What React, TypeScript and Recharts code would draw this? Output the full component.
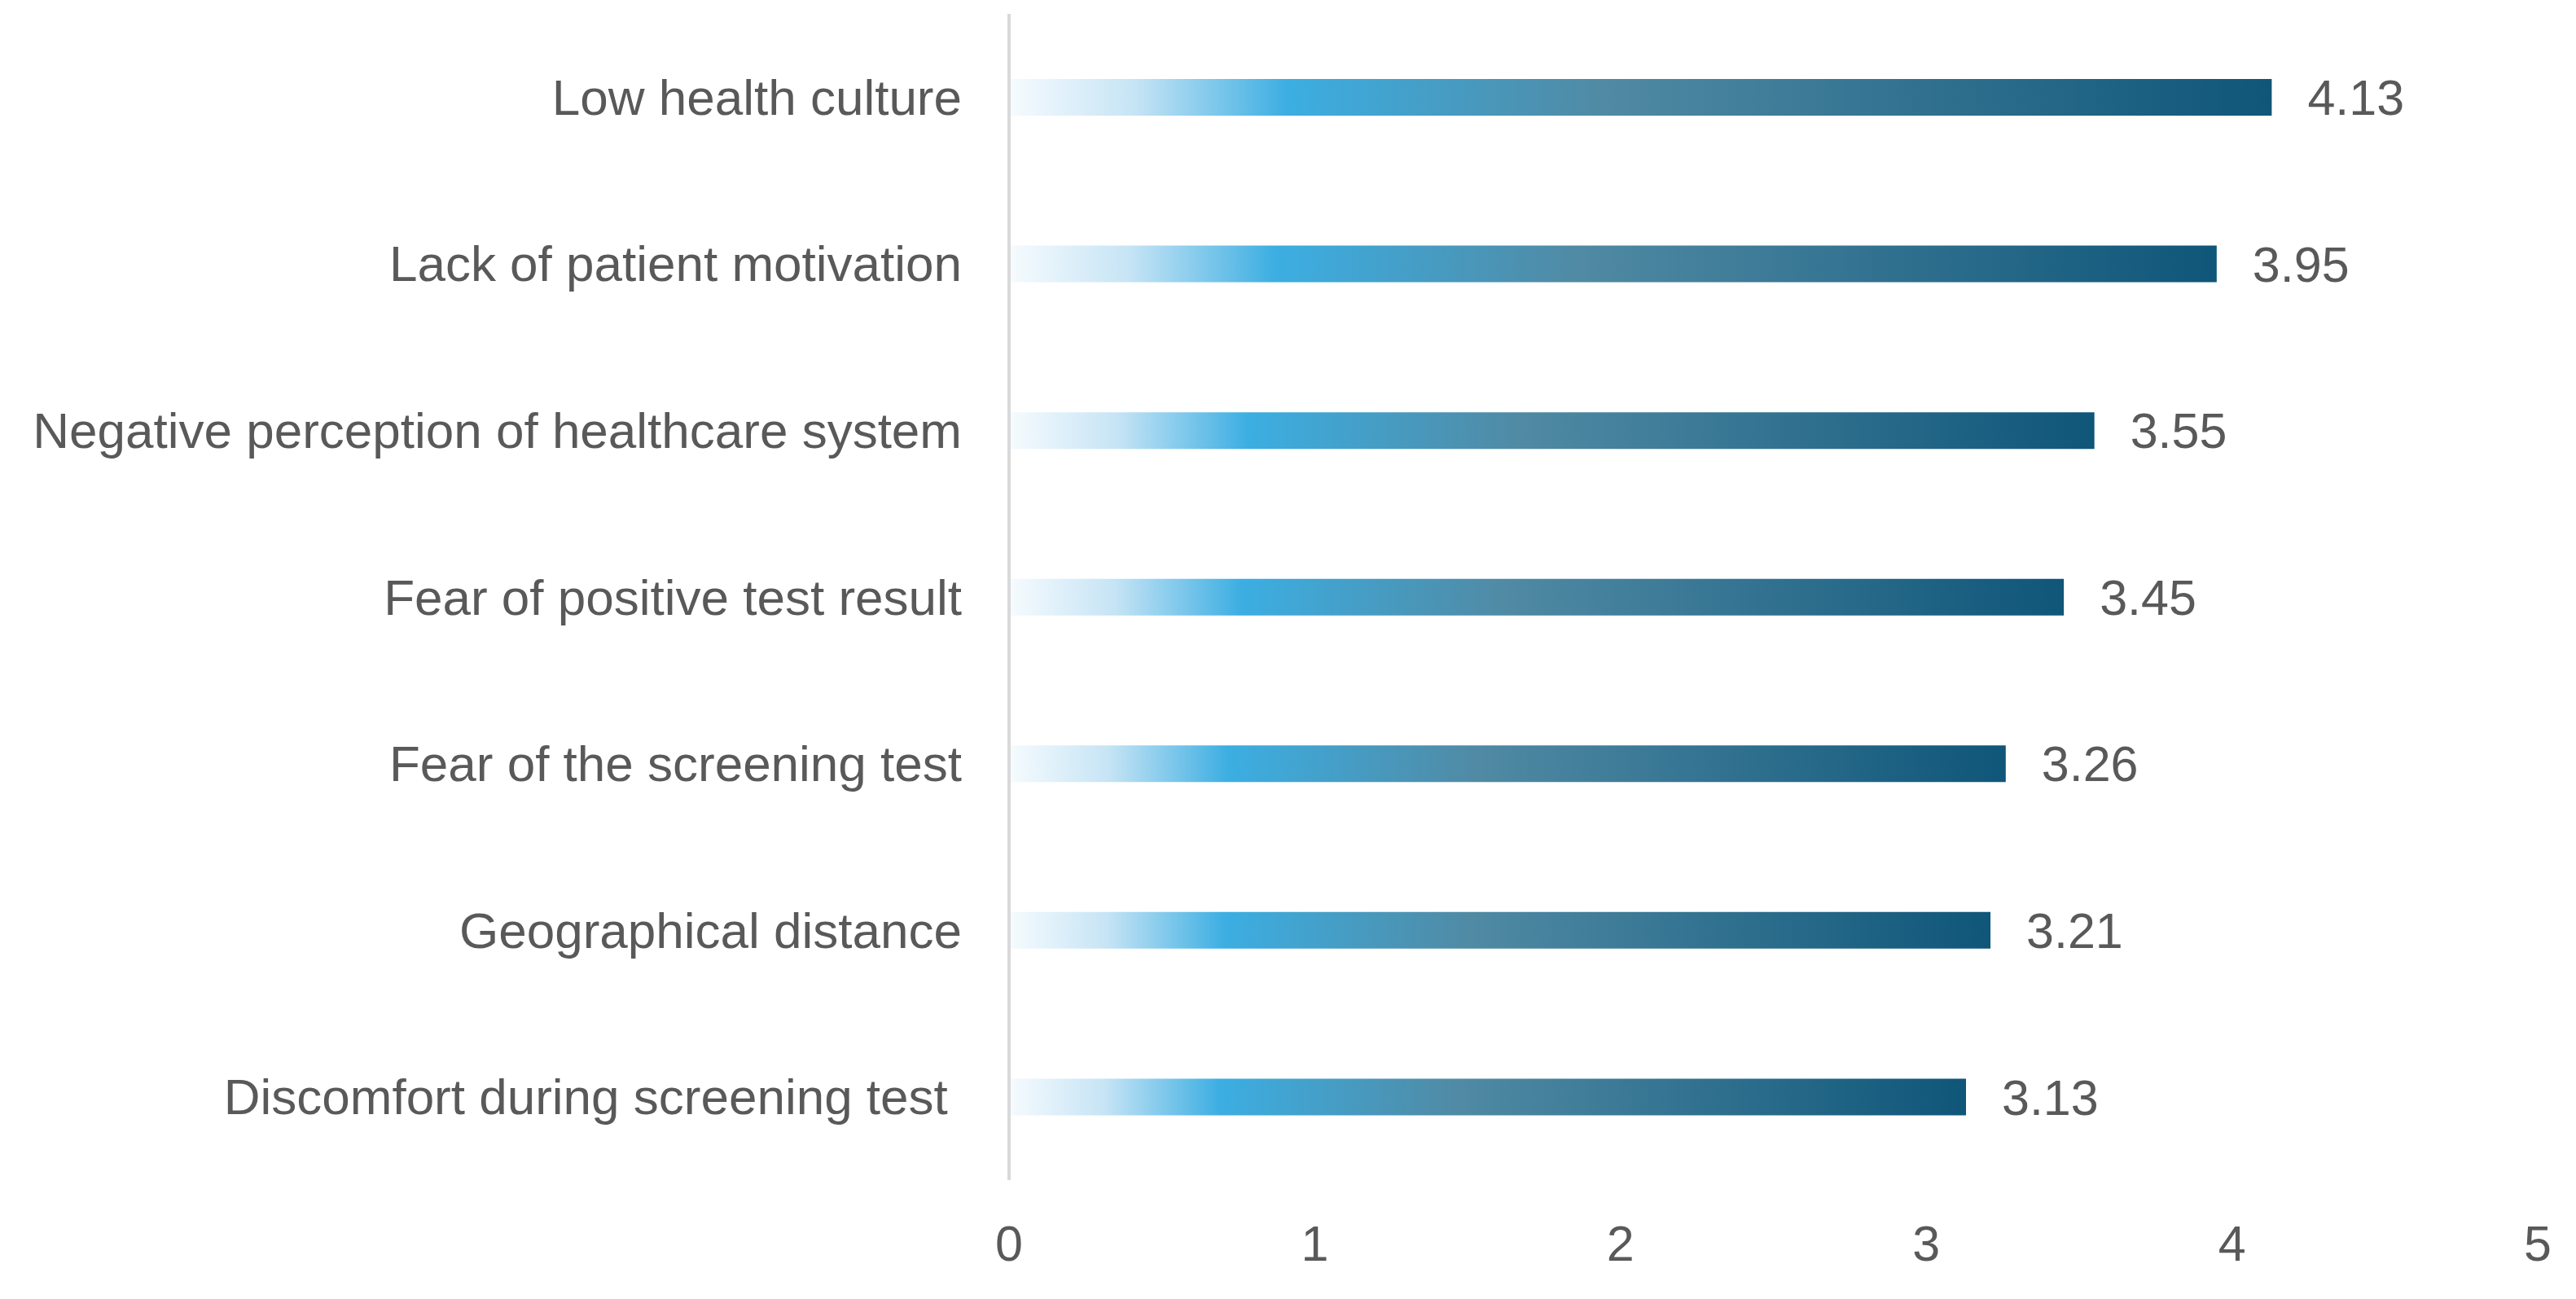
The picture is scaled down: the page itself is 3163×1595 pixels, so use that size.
import { BarChart, Bar, XAxis, YAxis, LabelList } from "recharts";

// Barriers to screening, mean scores
const barriers = [
  "Low health culture",
  "Lack of patient motivation",
  "Negative perception of healthcare system",
  "Fear of positive test result",
  "Fear of the screening test",
  "Geographical distance",
  "Discomfort during screening test ",
];
const scores = [4.13, 3.95, 3.55, 3.45, 3.26, 3.21, 3.13];
const xTicks = [0, 1, 2, 3, 4, 5];

const data = barriers.map((name, i) => ({ name, value: scores[i] }));

const textColor = "#595959";
const fontFamily = "'Liberation Sans', Arial, sans-serif";
const fontSize = 61;

const CategoryTick = ({ x, y, payload }: any) => (
  <text
    x={x}
    y={y}
    textAnchor="end"
    dominantBaseline="central"
    fill={textColor}
    fontSize={62}
    fontFamily={fontFamily}
    style={{ whiteSpace: "pre" }}
  >
    {payload.value}
  </text>
);

export default function App() {
  return (
    <div style={{ position: "absolute", left: 0, top: 0, background: "#fff" }}>
      <BarChart
        width={3163}
        height={1595}
        data={data}
        layout="vertical"
        margin={{ top: 17, right: 47, left: 0, bottom: 0 }}
      >
        <defs>
          <linearGradient id="barGradient" x1="0" y1="0" x2="1" y2="0">
            <stop offset="0%" stopColor="#f6fbfe" />
            <stop offset="10%" stopColor="#c6e4f5" />
            <stop offset="22%" stopColor="#3caee2" />
            <stop offset="47%" stopColor="#508aa4" />
            <stop offset="100%" stopColor="#0f5679" />
          </linearGradient>
        </defs>
        <XAxis
          type="number"
          domain={[0, 5]}
          ticks={xTicks}
          axisLine={false}
          tickLine={false}
          tickMargin={50}
          height={146}
          tick={{ fill: textColor, fontSize, fontFamily }}
        />
        <YAxis
          type="category"
          dataKey="name"
          width={1239}
          axisLine={{ stroke: "#d9d9d9", strokeWidth: 4 }}
          tickLine={false}
          tickMargin={52}
          tick={<CategoryTick />}
          interval={0}
        />
        <Bar
          dataKey="value"
          fill="url(#barGradient)"
          barSize={45}
          isAnimationActive={false}
        >
          <LabelList
            dataKey="value"
            position="right"
            offset={44}
            fill={textColor}
            fontSize={fontSize}
            fontFamily={fontFamily}
            formatter={(v: any) => Number(v).toFixed(2)}
          />
        </Bar>
      </BarChart>
    </div>
  );
}
